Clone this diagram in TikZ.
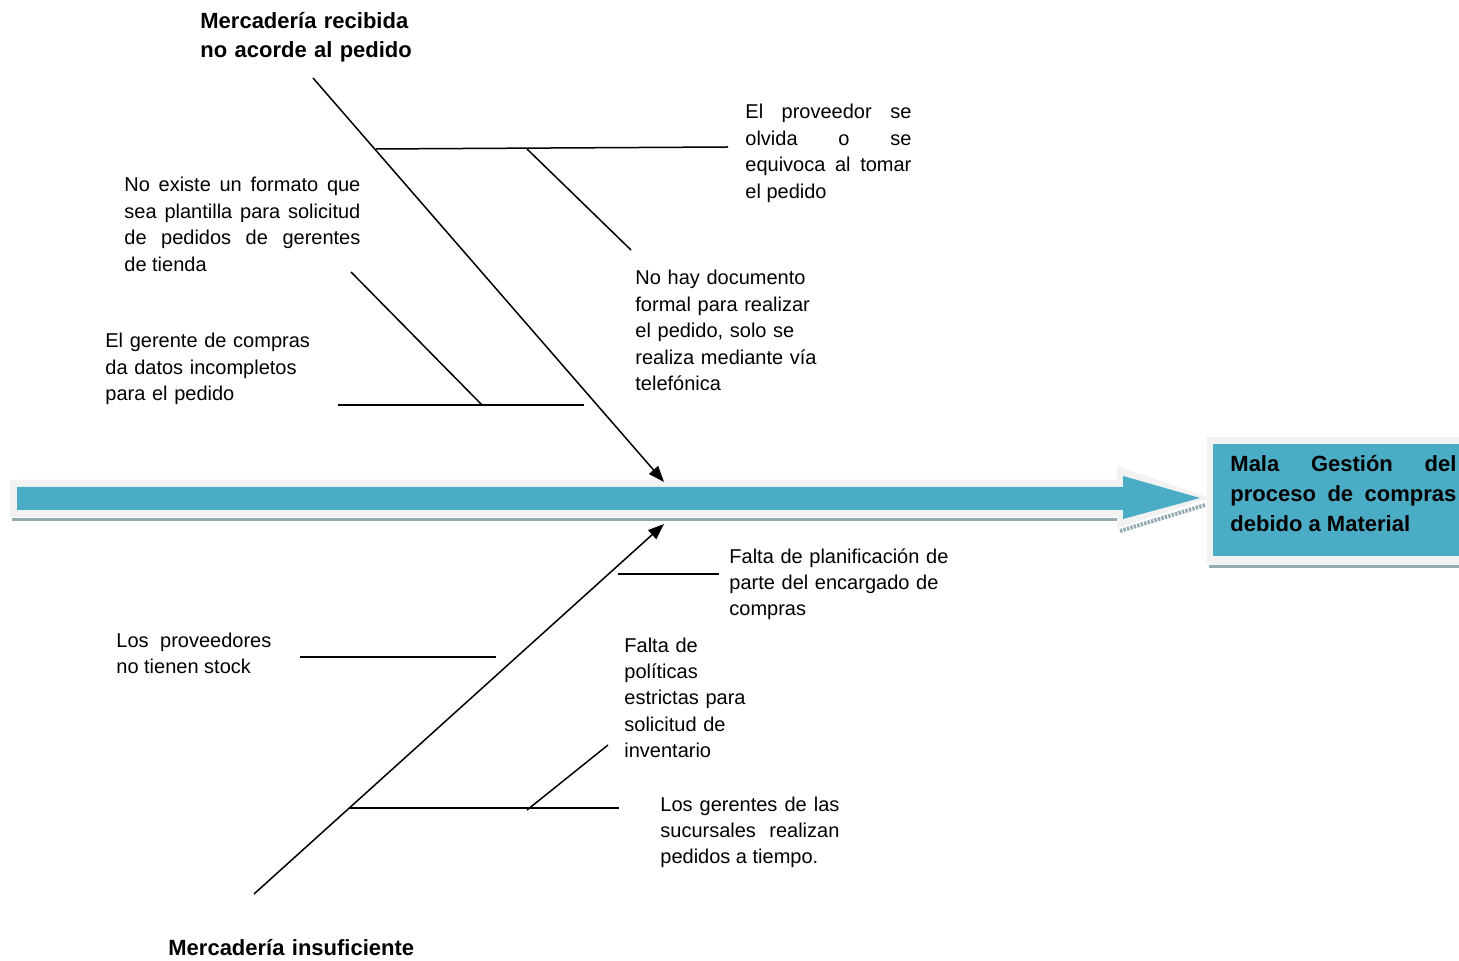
\documentclass[tikz,border=0pt]{standalone}
\usepackage{fontspec}
\setmainfont{Liberation Sans}
\usepackage{tikz}
\usetikzlibrary{arrows.meta}

\definecolor{azul}{HTML}{4BACC6}
\definecolor{marco}{HTML}{F2F2F2}
\definecolor{sombra}{HTML}{93AAB2}

\begin{document}
\begin{tikzpicture}[x=0.5pt, y=-0.5pt,
	causa/.style={anchor=base west, inner sep=0pt, align=left,
		font=\fontsize{10pt}{13.2pt}\selectfont},
	causajust/.style={causa, align=justify},
	espina/.style={draw, line width=0.75pt},
	flecha/.style={espina, -{Triangle[length=8pt,width=6pt]}},
	titulo/.style={anchor=base west, inner sep=0pt, align=left, text width=125pt,
		font=\fontsize{11pt}{14.5pt}\selectfont\bfseries}]
\useasboundingbox (0,0) rectangle (1459,961);

% eje central
\fill[marco] (10,480) -- (1117,480) -- (1117,466) -- (1210,498) -- (1117,528) -- (1117,517) -- (10,517) -- cycle;
\draw[sombra, line width=1.5pt] (12,520) -- (1117,520);
\draw[sombra, line width=2pt, dash pattern=on 1.2pt off 0.6pt] (1120,531) -- (1205,505);
\fill[azul] (17,487) -- (1123,487) -- (1123,476) -- (1200,498) -- (1123,519) -- (1123,510) -- (17,510) -- cycle;

% efecto
\fill[marco] (1207,437) rectangle (1470,565);
\draw[sombra, line width=1.5pt] (1209,566) -- (1470,566);
\fill[azul] (1213,444) rectangle (1470,556);
\node[titulo, align=justify, text width=113pt, font=\fontsize{11pt}{15pt}\selectfont\bfseries] (efecto) at (1230,472)
	{Mala Gesti\'on del\linebreak proceso de compras\linebreak debido a Material};

% categorias
\node[titulo] (cat1) at (200,29) {Mercader\'ia recibida\\no acorde al pedido};
\node[titulo] (cat2) at (168,955) {Mercader\'ia insuficiente};

% causas
\node[causajust, text width=83pt] (c1) at (745,119)
	{El proveedor se\linebreak olvida o se\linebreak equivoca al tomar\linebreak el pedido};
\node[causajust, text width=118pt] (c2) at (124,192)
	{No existe un formato que\linebreak sea plantilla para solicitud\linebreak de pedidos de gerentes\linebreak de tienda};
\node[causa, text width=100pt] (c3) at (635,285)
	{No hay documento\\formal para realizar\\el pedido, solo se\\realiza mediante v\'ia\\telef\'onica};
\node[causa, text width=110pt] (c4) at (105,348)
	{El gerente de compras\\da datos incompletos\\para el pedido};
\node[causa, text width=115pt] (c5) at (729,563)
	{Falta de planificaci\'on de\\parte del encargado de\\compras};
\node[causajust, text width=77.5pt] (c6) at (116,647)
	{Los proveedores\linebreak no tienen stock};
\node[causa, text width=70pt] (c7) at (624,652)
	{Falta de\\pol\'iticas\\estrictas para\\solicitud de\\inventario};
\node[causajust, text width=89.5pt] (c8) at (660,811)
	{Los gerentes de las\linebreak sucursales realizan\linebreak pedidos a tiempo.};

% espinas
\coordinate (a1) at (313,78);
\coordinate (a2) at (664,482);
\coordinate (b1) at (254,894);
\coordinate (b2) at (664,524);
\draw[flecha] (a1) -- (a2);
\draw[flecha] (b1) -- (b2);

\coordinate (h1) at (376,149);
\coordinate (h2) at (728,147);
\coordinate (h3) at (527,149);
\coordinate (h4) at (631,250);
\draw[espina] (h1) -- (h2);
\draw[espina] (h3) -- (h4);

\coordinate (g1) at (338,405);
\coordinate (g2) at (584,405);
\coordinate (g3) at (351,272);
\coordinate (g4) at (482,405);
\draw[espina] (g1) -- (g2);
\draw[espina] (g3) -- (g4);

\coordinate (p1) at (618,574);
\coordinate (p2) at (719,574);
\draw[espina] (p1) -- (p2);

\coordinate (s1) at (300,657);
\coordinate (s2) at (496,657);
\draw[espina] (s1) -- (s2);

\coordinate (i1) at (349,808);
\coordinate (i2) at (619,808);
\coordinate (i3) at (527,810);
\coordinate (i4) at (608,745);
\draw[espina] (i1) -- (i2);
\draw[espina] (i3) -- (i4);
\end{tikzpicture}
\end{document}
